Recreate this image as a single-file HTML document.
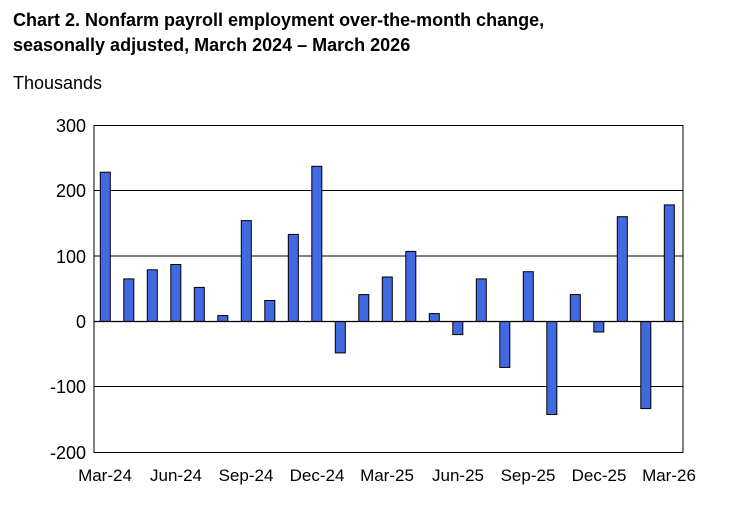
<!DOCTYPE html>
<html><head><meta charset="utf-8"><style>
body{margin:0;background:#fff;width:737px;height:512px;overflow:hidden}
</style></head><body>
<svg width="737" height="512" xmlns="http://www.w3.org/2000/svg" font-family="Liberation Sans, Arial, sans-serif">
<text x="13" y="26" font-size="18" font-weight="bold">Chart 2. Nonfarm payroll employment over-the-month change,</text>
<text x="13" y="51" font-size="18" font-weight="bold">seasonally adjusted, March 2024 – March 2026</text>
<text x="13" y="89" font-size="18">Thousands</text>
<g stroke="#000" stroke-width="1">
<line x1="94" y1="190.5" x2="683" y2="190.5"/>
<line x1="94" y1="256" x2="683" y2="256"/>
<line x1="94" y1="386.5" x2="683" y2="386.5"/>
</g>
<g fill="#4169E1" stroke="#000" stroke-width="1">
<rect x="100.3" y="172.2" width="10" height="149.3"/>
<rect x="123.8" y="278.9" width="10" height="42.6"/>
<rect x="147.3" y="269.8" width="10" height="51.7"/>
<rect x="170.8" y="264.5" width="10" height="57"/>
<rect x="194.3" y="287.4" width="10" height="34.1"/>
<rect x="217.8" y="315.6" width="10" height="5.9"/>
<rect x="241.3" y="220.6" width="10" height="100.9"/>
<rect x="264.8" y="300.5" width="10" height="21"/>
<rect x="288.3" y="234.4" width="10" height="87.1"/>
<rect x="311.8" y="166.3" width="10" height="155.2"/>
<rect x="335.3" y="321.5" width="10" height="31.4"/>
<rect x="358.8" y="294.6" width="10" height="26.9"/>
<rect x="382.3" y="277" width="10" height="44.5"/>
<rect x="405.8" y="251.4" width="10" height="70.1"/>
<rect x="429.3" y="313.6" width="10" height="7.9"/>
<rect x="452.8" y="321.5" width="10" height="13.1"/>
<rect x="476.3" y="278.9" width="10" height="42.6"/>
<rect x="499.8" y="321.5" width="10" height="45.9"/>
<rect x="523.3" y="271.7" width="10" height="49.8"/>
<rect x="546.8" y="321.5" width="10" height="93"/>
<rect x="570.3" y="294.6" width="10" height="26.9"/>
<rect x="593.8" y="321.5" width="10" height="10.5"/>
<rect x="617.3" y="216.7" width="10" height="104.8"/>
<rect x="640.8" y="321.5" width="10" height="87.1"/>
<rect x="664.3" y="204.9" width="10" height="116.6"/>
</g>
<line x1="94" y1="321.5" x2="683" y2="321.5" stroke="#000" stroke-width="1.2"/>
<rect x="94" y="125.5" width="589" height="327" fill="none" stroke="#000" stroke-width="1"/>
<g font-size="18" text-anchor="end">
<text x="86" y="132">300</text><text x="86" y="197">200</text><text x="86" y="263">100</text>
<text x="86" y="328">0</text><text x="86" y="393">-100</text><text x="86" y="459">-200</text>
</g>
<g font-size="17" text-anchor="middle">
<text x="105" y="481">Mar-24</text><text x="176" y="481">Jun-24</text><text x="246" y="481">Sep-24</text>
<text x="317" y="481">Dec-24</text><text x="387" y="481">Mar-25</text><text x="458" y="481">Jun-25</text>
<text x="528" y="481">Sep-25</text><text x="599" y="481">Dec-25</text><text x="669" y="481">Mar-26</text>
</g>
</svg>
</body></html>
